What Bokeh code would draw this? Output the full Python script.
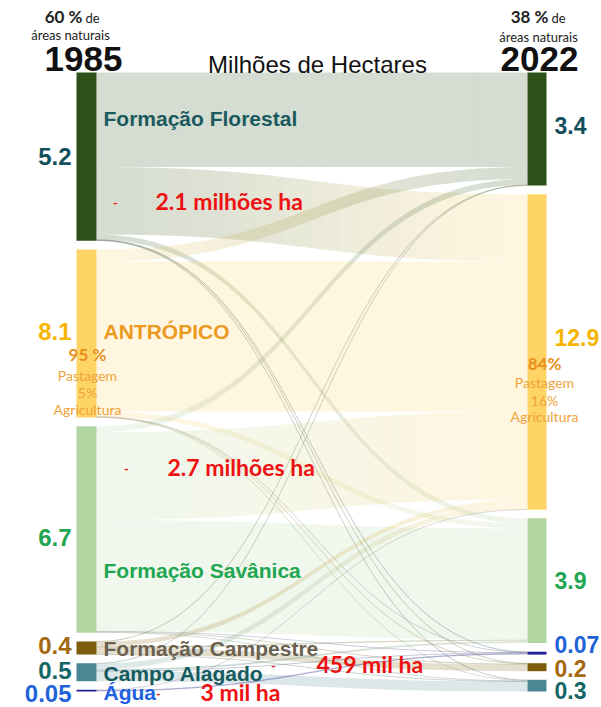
import numpy as np
from bokeh.plotting import figure
from bokeh.models import Range1d
from bokeh.core.properties import value
from bokeh.embed import file_html
from bokeh.resources import INLINE

# ---------------- data ----------------
left_nodes = ["Formação Florestal", "ANTRÓPICO", "Formação Savânica",
              "Formação Campestre", "Campo Alagado", "Água"]
right_nodes = ["Formação Florestal", "ANTRÓPICO", "Formação Savânica",
               "Água", "Formação Campestre", "Campo Alagado"]
left_value_labels = ["5.2", "8.1", "6.7", "0.4", "0.5", "0.05"]
right_value_labels = ["3.4", "12.9", "3.9", "0.07", "0.2", "0.3"]

# flows (million ha, estimated from band widths)
flow_source = ["Formação Florestal"] * 6 + ["ANTRÓPICO"] * 6 + ["Formação Savânica"] * 6 + \
              ["Formação Campestre"] * 5 + ["Campo Alagado"] * 5 + ["Água"] * 2
flow_target = ["Formação Florestal", "ANTRÓPICO", "Formação Savânica", "Água", "Formação Campestre", "Campo Alagado",
               "Formação Florestal", "ANTRÓPICO", "Formação Savânica", "Água", "Formação Campestre", "Campo Alagado",
               "Formação Florestal", "ANTRÓPICO", "Formação Savânica", "Água", "Formação Campestre", "Campo Alagado",
               "Formação Florestal", "ANTRÓPICO", "Formação Savânica", "Formação Campestre", "Campo Alagado",
               "Formação Florestal", "ANTRÓPICO", "Formação Savânica", "Água", "Campo Alagado",
               "ANTRÓPICO", "Água"]
flow_value = [3.15, 2.25, 0.17, 0.01, 0.01, 0.02,
              0.40, 5.00, 0.17, 0.01, 0.015, 0.01,
              0.20, 2.93, 3.70, 0.015, 0.02, 0.02,
              0.01, 0.15, 0.05, 0.22, 0.01,
              0.01, 0.18, 0.07, 0.01, 0.33,
              0.005, 0.05]

loss_labels = ["2.1 milhões ha", "2.7 milhões ha", "459 mil ha", "3 mil ha"]
left_share = ["95 %", "Pastagem", "5%", "Agricultura"]
right_share = ["84%", "Pastagem", "16%", "Agricultura"]

# ---------------- styles ----------------
node_color = {"Formação Florestal": "#2c5018", "ANTRÓPICO": "#fed466", "Formação Savânica": "#b3d5a2",
              "Formação Campestre": "#7d5d0b", "Campo Alagado": "#4a8792", "Água": "#1e1e96"}
text_color = {"Formação Florestal": "#124f5c", "ANTRÓPICO": "#f6b400", "Formação Savânica": "#1ea650",
              "Formação Campestre": "#a4690f", "Campo Alagado": "#146767", "Água": "#1f63d8"}
name_color = {"Formação Florestal": "#1a5a5f", "ANTRÓPICO": "#ec9a1f", "Formação Savânica": "#1ea650",
              "Formação Campestre": "#6c6150", "Campo Alagado": "#145b5d", "Água": "#2062e0"}

W, H = 600, 706
TOP, BOTTOM = 72, 691
SCALE = 30.0
LX0, LX1 = 76, 96
RX0, RX1 = 527, 546

p = figure(width=W, height=H, output_backend="svg", toolbar_location=None,
           x_range=Range1d(0, W), y_range=Range1d(H, 0),
           x_axis_location=None, y_axis_location=None, min_border=0)
p.grid.visible = False
p.outline_line_color = None
p.background_fill_color = "white"


def layout(nodes, side_key):
    totals = {n: 0.0 for n in nodes}
    for s, t, v in zip(flow_source, flow_target, flow_value):
        totals[s if side_key == "s" else t] += v
    tot = sum(totals.values()) * SCALE
    gap = (BOTTOM - TOP - tot) / (len(nodes) - 1)
    pos = {}
    y = TOP
    for n in nodes:
        h = totals[n] * SCALE
        pos[n] = [y, y + h]
        y += h + gap
    return pos


lpos = layout(left_nodes, "s")
rpos = layout(right_nodes, "t")

# link stacking
links = list(zip(flow_source, flow_target, flow_value))
src_off = {n: lpos[n][0] for n in left_nodes}
tgt_off = {n: rpos[n][0] for n in right_nodes}
src_y, tgt_y = {}, {}
for n in left_nodes:
    outs = sorted([i for i, l in enumerate(links) if l[0] == n], key=lambda i: right_nodes.index(links[i][1]))
    for i in outs:
        h = links[i][2] * SCALE
        src_y[i] = (src_off[n], src_off[n] + h)
        src_off[n] += h
for n in right_nodes:
    ins = sorted([i for i, l in enumerate(links) if l[1] == n], key=lambda i: left_nodes.index(links[i][0]))
    for i in ins:
        h = links[i][2] * SCALE
        tgt_y[i] = (tgt_off[n], tgt_off[n] + h)
        tgt_off[n] += h


def bez(a, b, c, d, t):
    return (1 - t) ** 3 * a + 3 * (1 - t) ** 2 * t * b + 3 * (1 - t) * t ** 2 * c + t ** 3 * d


def hex2rgb(h):
    return np.array([int(h[1:3], 16), int(h[3:5], 16), int(h[5:7], 16)], dtype=float)


def rgb2hex(c):
    return "#%02x%02x%02x" % tuple(int(round(v)) for v in c)


NSEG = 24
PTS = 5
xm = (LX1 + RX0) / 2
pxs, pys, pcol = [], [], []
lxs, lys, lcol = [], [], []
for i, (s, tg, v) in enumerate(links):
    s0, s1 = src_y[i]
    t0, t1 = tgt_y[i]
    c0, c1 = hex2rgb(node_color[s]), hex2rgb(node_color[tg])
    edges = np.linspace(0, 1, NSEG + 1)
    for k in range(NSEG):
        tt = np.linspace(edges[k], edges[k + 1], PTS)
        xt = bez(LX1, xm, xm, RX0, tt)
        ytop = bez(s0, s0, t0, t0, tt)
        ybot = bez(s1, s1, t1, t1, tt)
        pxs.append(np.concatenate([xt, xt[::-1]]).tolist())
        pys.append(np.concatenate([ytop, ybot[::-1]]).tolist())
        f = (edges[k] + edges[k + 1]) / 2
        pcol.append(rgb2hex(c0 * (1 - f) + c1 * f))
    if v * SCALE < 3:
        tt = np.linspace(0, 1, 80)
        xt = bez(LX1, xm, xm, RX0, tt)
        yc = (bez(s0, s0, t0, t0, tt) + bez(s1, s1, t1, t1, tt)) / 2
        lxs.append(xt.tolist())
        lys.append(yc.tolist())
        lcol.append(rgb2hex((c0 + c1) / 2 * 0.6 + 0.4 * 128))

p.patches(pxs, pys, fill_color=pcol, fill_alpha=0.2, line_color=None)
p.multi_line(lxs, lys, line_color=lcol, line_alpha=0.35, line_width=0.8)

# nodes
p.quad(left=[LX0] * 6, right=[LX1] * 6,
       top=[lpos[n][0] for n in left_nodes], bottom=[max(lpos[n][1], lpos[n][0] + 1.5) for n in left_nodes],
       fill_color=[node_color[n] for n in left_nodes], line_color=None)
p.quad(left=[RX0] * 6, right=[RX1] * 6,
       top=[rpos[n][0] for n in right_nodes], bottom=[max(rpos[n][1], rpos[n][0] + 1.5) for n in right_nodes],
       fill_color=[node_color[n] for n in right_nodes], line_color=None)

SANS = value("Liberation Sans")
LATO = value("Lato")

# value labels
l_off = [0, -2, 8, -2, -2, 3]
r_off = [-4, -14, 0, -9, 1, 5]
p.text(x=[71] * 6, y=[(lpos[n][0] + lpos[n][1]) / 2 + o for n, o in zip(left_nodes, l_off)],
       text=left_value_labels, text_font=SANS, text_font_style="bold", text_font_size="24px",
       text_align="right", text_baseline="middle", text_color=[text_color[n] for n in left_nodes])
p.text(x=[554] * 6, y=[(rpos[n][0] + rpos[n][1]) / 2 + o for n, o in zip(right_nodes, r_off)],
       text=right_value_labels, text_font=SANS, text_font_style="bold", text_font_size="23px",
       text_align="left", text_baseline="middle", text_color=[text_color[n] for n in right_nodes])

# node names
name_y = [lpos[left_nodes[0]][0] + 46, (lpos[left_nodes[1]][0] + lpos[left_nodes[1]][1]) / 2 - 2,
          lpos[left_nodes[2]][1] - 62, (lpos[left_nodes[3]][0] + lpos[left_nodes[3]][1]) / 2 + 1,
          (lpos[left_nodes[4]][0] + lpos[left_nodes[4]][1]) / 2 + 1, lpos[left_nodes[5]][0] + 3]
p.text(x=[103] * 6, y=name_y, text=left_nodes, text_font=SANS, text_font_style="bold",
       text_font_size="21px", text_align="left", text_baseline="middle",
       text_color=[name_color[n] for n in left_nodes])

# loss labels
loss_x = [155, 167, 316, 200]
loss_y = [200, 466, 663, 691]
dash_x = [115, 126, 273, 158]
p.text(x=loss_x, y=loss_y, text=loss_labels, text_font=LATO, text_font_style="bold",
       text_font_size="23px", text_align="left", text_baseline="middle", text_color="#ee1111")
p.text(x=dash_x, y=[y + 2 for y in loss_y], text=["-"] * 4, text_font=LATO, text_font_style="bold",
       text_font_size="13px", text_align="center", text_baseline="middle", text_color="#ee2222")

# share labels
sh_y_l = [354, 375, 392, 409]
sh_y_r = [363, 382, 400, 416]
sh_size = ["17px", "14px", "14px", "14px"]
sh_style = ["bold", "normal", "normal", "normal"]
sh_col = ["#e8901c", "#f0a33a", "#f0a33a", "#f0a33a"]
for i in range(4):
    p.text(x=[87], y=[sh_y_l[i]], text=[left_share[i]], text_font=LATO, text_font_style=sh_style[i],
           text_font_size=sh_size[i], text_align="center", text_baseline="middle", text_color=sh_col[i])
    p.text(x=[544], y=[sh_y_r[i]], text=[right_share[i]], text_font=LATO, text_font_style=sh_style[i],
           text_font_size=sh_size[i], text_align="center", text_baseline="middle", text_color=sh_col[i])

# header
p.text(x=[82, 548], y=[16, 16], text=["60 %", "38 %"], text_font=LATO, text_font_style="bold",
       text_font_size="17px", text_align="right", text_baseline="middle", text_color="#222222")
p.text(x=[85, 551], y=[17, 17], text=["de", "de"], text_font=LATO,
       text_font_size="13px", text_align="left", text_baseline="middle", text_color="#222222")
p.text(x=[70, 538], y=[34, 36], text=["áreas naturais", "áreas naturais"], text_font=LATO,
       text_font_size="13px", text_align="center", text_baseline="middle", text_color="#222222")
p.text(x=[83, 539], y=[58, 58], text=["1985", "2022"], text_font=SANS, text_font_style="bold",
       text_font_size="35px", text_align="center", text_baseline="middle", text_color="#111111")
p.text(x=[317], y=[64], text=["Milhões de Hectares"], text_font=SANS,
       text_font_size="24px", text_align="center", text_baseline="middle", text_color="#111111")

open("out.html", "w").write(file_html(p, INLINE))
